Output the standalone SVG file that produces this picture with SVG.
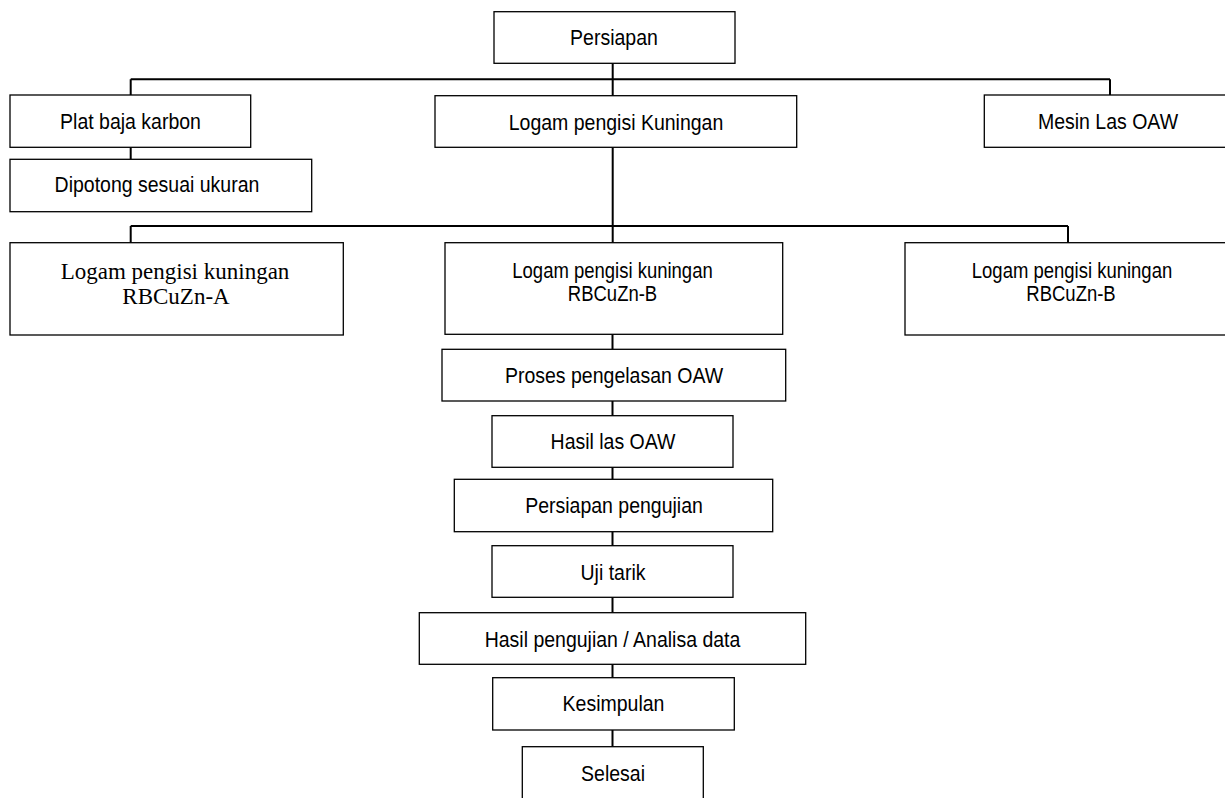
<svg xmlns="http://www.w3.org/2000/svg" width="1225" height="798" viewBox="0 0 1225 798">
<style>
.box{fill:#fff;stroke:#000;stroke-width:1.3}
.con{stroke:#000;stroke-width:2;fill:none}
.t{font-family:"Liberation Sans",Arial,sans-serif;font-size:19.5px;text-anchor:middle;fill:#000}
.tb{font-family:"Liberation Sans",Arial,sans-serif;font-size:18.5px;text-anchor:middle;fill:#000}
.s{font-family:"Liberation Serif","Times New Roman",serif;font-size:23px;text-anchor:middle;fill:#000}
</style>
<rect width="1225" height="798" fill="#fff"/>
<g id="connectors">
<path class="con" d="M612.7 63.3V95.7M130.7 79.3H1110M130.7 79.3V95M1110 79.3V95M130.7 147.3V159.3M612.7 147.3V242.7M130.7 226H1068M130.7 226V242.7M1068 226V242.7"/>
<path class="con" d="M612.5 334.3V349.3M612.5 401V415.7M612.5 467.3V479.3M612.5 531.7V545.7M612.5 597.3V612.7M612.5 664.3V677.7M612.5 730V746.7"/>
</g>
<g id="persiapan"><rect class="box" x="494" y="11.7" width="241" height="51.6"/><text class="t" transform="translate(614,45) scale(1,1.15)">Persiapan</text></g>
<g id="plat"><rect class="box" x="10" y="95" width="240.7" height="52.3"/><text class="t" transform="translate(130.5,129.3) scale(1,1.15)">Plat baja karbon</text></g>
<g id="kuningan"><rect class="box" x="435" y="95.7" width="361.7" height="51.6"/><text class="t" transform="translate(616,130) scale(1,1.15)">Logam pengisi Kuningan</text></g>
<g id="mesin"><rect class="box" x="984.3" y="95" width="260" height="52.3"/><text class="t" transform="translate(1108,129.3) scale(1,1.15)">Mesin Las OAW</text></g>
<g id="dipotong"><rect class="box" x="10" y="159.3" width="301.7" height="52.4"/><text class="t" transform="translate(157,192) scale(1,1.15)">Dipotong sesuai ukuran</text></g>
<g id="logamA"><rect class="box" x="10" y="242.7" width="333.3" height="92.3"/><text class="s" x="175" y="278.5">Logam pengisi kuningan</text><text class="s" x="176" y="304">RBCuZn-A</text></g>
<g id="logamB1"><rect class="box" x="445" y="242.7" width="337.7" height="91.6"/><text class="tb" transform="translate(612.5,278.3) scale(1,1.15)">Logam pengisi kuningan</text><text class="tb" transform="translate(612.5,300.7) scale(1,1.15)">RBCuZn-B</text></g>
<g id="logamB2"><rect class="box" x="905" y="242.7" width="340" height="92.3"/><text class="tb" transform="translate(1072,278.3) scale(1,1.15)">Logam pengisi kuningan</text><text class="tb" transform="translate(1071,301.3) scale(1,1.15)">RBCuZn-B</text></g>
<g id="proses"><rect class="box" x="442" y="349.3" width="343.7" height="51.7"/><text class="t" transform="translate(614,383.3) scale(1,1.15)">Proses pengelasan OAW</text></g>
<g id="hasilLas"><rect class="box" x="492" y="415.7" width="241" height="51.6"/><text class="t" transform="translate(613,449.3) scale(1,1.15)">Hasil las OAW</text></g>
<g id="persiapanPengujian"><rect class="box" x="454.3" y="479.3" width="318.4" height="52.4"/><text class="t" transform="translate(614,513.3) scale(1,1.15)">Persiapan pengujian</text></g>
<g id="ujiTarik"><rect class="box" x="492" y="545.7" width="241" height="51.6"/><text class="t" transform="translate(613,579.7) scale(1,1.15)">Uji tarik</text></g>
<g id="hasilPengujian"><rect class="box" x="419.3" y="612.7" width="386.4" height="51.6"/><text class="t" transform="translate(612.5,646.5) scale(1,1.15)">Hasil pengujian / Analisa data</text></g>
<g id="kesimpulan"><rect class="box" x="492.7" y="677.7" width="241.6" height="52.3"/><text class="t" transform="translate(613.5,711) scale(1,1.15)">Kesimpulan</text></g>
<g id="selesai"><rect class="box" x="522.3" y="746.7" width="181" height="70"/><text class="t" transform="translate(613,780.7) scale(1,1.15)">Selesai</text></g>
</svg>
